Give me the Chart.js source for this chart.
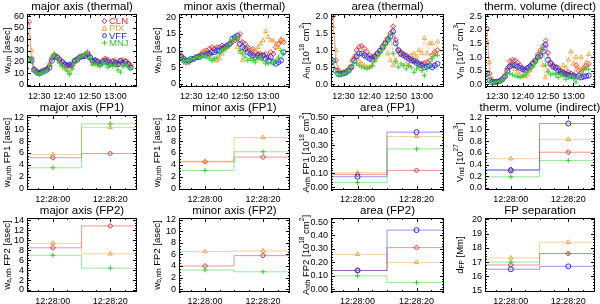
<!DOCTYPE html>
<html>
<head>
<meta charset="utf-8">
<script src="https://cdn.jsdelivr.net/npm/chart.js@4.4.1/dist/chart.umd.min.js"></script>
<style>
  body { margin: 0; background: #fff; }
  #wrap { position: relative; width: 600px; height: 304px; }
  #wrap canvas { position: absolute; left: 0; top: 0; }
</style>
</head>
<body>
<div id="wrap"></div>
<script>
// ---- data ----
const seriesNames = ['CLN', 'PIX', 'VFF', 'MNJ'];

// time axis of the thermal panels, minutes after 12:00
const minutes = [26, 27, 28, 29, 30, 31, 32, 33, 34, 35, 36, 37, 38, 39, 40, 41, 42, 43, 44, 45,
  46, 47, 48, 49, 50, 51, 52, 53, 54, 55, 56, 57, 58, 59, 60, 61, 62, 63, 64, 65, 66];
const thermTicks = [30, 40, 50, 60];

// major axis (thermal) [asec]
const majCLN = [55, 23, 14, 12, 11, 12, 13, 14, 17, 23, 26, 25, 22, 20, 18, 17, 18, 17, 21, 23, 24, 25, 26, 28, 25, 21, 22, 21, 19, 21, 23, 22, 19, 21, 20, 19, 21, 20, 21, 19, 17];
const majPIX = [42, 30, 13, 11, 10, 11, 12, 13, 19, 25, 27, 24, 20, 17, 14, 13, 11, 15, 20, 23, 25, 24, 26, 27, 23, 18, 20, 21, 18, 22, 22, 18, 21, 18, 22, 17, 20, 22, 18, 20, 16];
const majVFF = [22, 21, 13, 11, 10, 11, 12, 13, 15, 21, 25, 24, 22, 20, 18, 17, 17, 18, 21, 22, 24, 25, 25, 27, 24, 21, 21, 20, 18, 20, 21, 20, 18, 20, 19, 18, 21, 19, 20, 18, 15];
const majMNJ = [23, 22, 12, 10, 9, 10, 11, 12, 17, 24, 27, 24, 19, 16, 15, 12, 9, 14, 19, 22, 24, 26, 27, 29, 23, 18, 18, 17, 16, 19, 18, 15, 18, 16, 17, 13, 11, 16, 18, 15, 14];

// minor axis (thermal) [asec]
const minCLN = [8.5, 7, 6.3, 6.5, 7, 7.5, 8, 8.5, 9, 9.5, 10, 10.5, 11, 10.5, 11, 11, 11.5, 11, 11.5, 12, 12.5, 13, 13.5, 15, 12.5, 12, 11, 10, 10.5, 9.5, 9, 9, 8.5, 9, 8, 9.5, 9, 11, 12, 13, 12.5];
const minPIX = [9, 8, 6.5, 7, 7, 7.5, 8, 8.5, 9.5, 10, 9.5, 9, 8, 7, 7, 7.5, 9, 10, 11, 12.5, 13, 14, 11, 9.5, 7, 10, 10.5, 9, 10, 9, 11, 12, 13, 15.8, 14, 13, 13, 12, 11, 13.5, 13];
const minVFF = [8, 7.5, 7, 7, 7.5, 7.5, 8, 8, 8.5, 8.5, 9, 9, 9.5, 9.5, 10, 10, 10.5, 11, 11.5, 12, 13.5, 14, 14.5, 12, 11, 10.5, 9.5, 9, 8.5, 8, 8.5, 8, 8.5, 7.5, 7, 8, 6.5, 6, 6.5, 7, 9.5];
const minMNJ = [8, 6.5, 7, 7, 7.5, 7.5, 8, 8, 8, 8.5, 8, 7.5, 7, 7.5, 8, 9, 10, 10.5, 11, 12, 13, 13.5, 14, 10, 9, 8, 7, 7.5, 7, 6.5, 7.5, 8, 7, 6, 6, 6.5, 6, 7, 8, 10, 9];

// area (thermal) [1e18 cm^2]
const areaCLN = [2.0, 0.7, 0.4, 0.35, 0.35, 0.38, 0.42, 0.5, 0.75, 1.0, 1.1, 1.12, 1.05, 0.95, 0.85, 0.8, 0.85, 0.9, 1.0, 1.05, 1.2, 1.35, 1.5, 1.7, 1.3, 1.0, 0.95, 0.9, 0.85, 0.8, 0.75, 0.7, 0.68, 0.62, 0.6, 0.62, 0.65, 0.7, 0.85, 0.95, 1.0];
const areaPIX = [1.7, 1.0, 0.45, 0.36, 0.35, 0.4, 0.5, 0.7, 0.82, 0.78, 0.68, 0.6, 0.55, 0.5, 0.5, 0.55, 0.7, 0.85, 1.0, 1.15, 1.3, 0.9, 0.7, 0.55, 0.7, 0.95, 0.85, 0.9, 0.6, 0.55, 0.85, 0.9, 0.8, 1.0, 0.9, 1.35, 0.9, 1.2, 1.2, 0.9, 1.25];
const areaVFF = [0.68, 0.4, 0.3, 0.3, 0.32, 0.35, 0.4, 0.5, 0.7, 0.82, 0.9, 0.9, 0.85, 0.8, 0.75, 0.72, 0.8, 0.9, 0.98, 1.1, 1.2, 1.3, 1.4, 1.55, 1.2, 1.0, 0.9, 0.85, 0.8, 0.75, 0.7, 0.68, 0.62, 0.58, 0.55, 0.5, 0.52, 0.55, 0.5, 0.55, 0.6];
const areaMNJ = [0.65, 0.35, 0.25, 0.27, 0.3, 0.33, 0.38, 0.5, 0.62, 0.6, 0.55, 0.5, 0.48, 0.45, 0.5, 0.55, 0.68, 0.8, 0.9, 1.0, 1.15, 1.3, 1.45, 0.9, 0.65, 0.5, 0.6, 0.55, 0.45, 0.55, 0.5, 0.35, 0.45, 0.5, 0.4, 0.25, 0.45, 0.6, 0.75, 0.85, 0.85];

// therm. volume (direct) [1e27 cm^3]
const volCLN = [2.05, 0.4, 0.15, 0.08, 0.1, 0.12, 0.2, 0.3, 0.6, 0.85, 0.9, 0.88, 0.8, 0.7, 0.6, 0.55, 0.6, 0.7, 0.8, 0.9, 1.1, 1.25, 1.4, 1.6, 1.15, 0.8, 0.7, 0.65, 0.6, 0.5, 0.45, 0.4, 0.45, 0.4, 0.35, 0.7, 0.5, 0.45, 0.6, 0.7, 0.75];
const volPIX = [1.6, 0.8, 0.2, 0.1, 0.1, 0.12, 0.2, 0.35, 0.55, 0.75, 0.7, 0.55, 0.45, 0.35, 0.3, 0.28, 0.35, 0.5, 0.65, 0.85, 1.0, 1.1, 0.7, 0.25, 0.5, 0.7, 0.6, 0.65, 0.4, 0.45, 0.7, 0.6, 0.9, 1.2, 0.75, 1.0, 0.6, 1.0, 0.55, 0.8, 1.1];
const volVFF = [0.4, 0.15, 0.08, 0.08, 0.1, 0.12, 0.18, 0.28, 0.5, 0.65, 0.7, 0.7, 0.65, 0.6, 0.55, 0.5, 0.6, 0.65, 0.75, 0.85, 1.0, 1.05, 1.2, 1.45, 0.9, 0.75, 0.65, 0.6, 0.5, 0.45, 0.4, 0.38, 0.35, 0.3, 0.3, 0.28, 0.3, 0.25, 0.28, 0.3, 0.32];
const volMNJ = [0.35, 0.12, 0.05, 0.05, 0.08, 0.1, 0.15, 0.25, 0.4, 0.4, 0.35, 0.3, 0.28, 0.25, 0.3, 0.35, 0.45, 0.55, 0.65, 0.8, 1.0, 1.2, 1.35, 0.7, 0.45, 0.35, 0.4, 0.35, 0.25, 0.35, 0.3, 0.18, 0.25, 0.3, 0.2, 0.08, 0.25, 0.4, 0.55, 0.6, 0.55];

// footpoint panels: two times, seconds after 12:28:00; per series [t0, t20] (CLN, PIX, VFF, MNJ), null = none
const fpSeconds = [0, 20];
const fpTickLabels = ['12:28:00', '12:28:20'];
const majFP1 = [[5.2, 5.9], [5.7, 10.3], null, [3.5, 10.9]];
const minFP1 = [[4.5, 5.3], [4.6, 8.6], null, [3.05, 6.2]];
const areaFP1 = [[0.092, 0.12], [0.104, 0.363], [0.075, 0.394], [0.033, 0.274]];
const volInd = [[0.315, 0.61], [0.50, 0.83], [0.30, 1.10], [0.19, 0.47]];
const majFP2 = [[8.5, 12.9], [9.4, 7.3], null, [7.0, 4.4]];
const minFP2 = [[4.0, 5.8], [6.5, 6.6], null, [3.3, 3.0]];
const areaFP2 = [[0.14, 0.31], [0.26, 0.20], [0.14, 0.44], [0.10, 0.05]];
const fpSep = [[16.8, 17.6], [17.3, 18.4], [16.5, 16.7], [17.0, 17.6]];

// ---- style / layout ----
const colors = ['#e8262d', '#f3a040', '#2b2bd9', '#2fcf2f'];
const lineColors = ['rgba(232,38,45,0.7)', 'rgba(243,160,64,0.7)', 'rgba(43,43,217,0.7)', 'rgba(47,207,47,0.7)'];
const pointStyles = ['rectRot', 'triangle', 'circle', 'cross'];
const FONT = '"Liberation Sans", Arial, Helvetica, sans-serif';

const boxL = [27, 179, 331, 485];
const boxR = [137, 290, 444, 596];
const boxT = [14, 115, 218];
const boxB = [87, 190, 292];
const yTitleX = [7, 157, 306, 460];
const YW = 22, XH = 14;

const panels = [
  { row: 0, col: 0, title: 'major axis (thermal)', ylab: 'w_{a,th} [asec]', y: [-2, 62], yt: [0, 10, 20, 30, 40, 50, 60], ym: 5, dec: 0, data: [majCLN, majPIX, majVFF, majMNJ], legend: true },
  { row: 0, col: 1, title: 'minor axis (thermal)', ylab: 'w_{b,th} [asec]', y: [-1, 21], yt: [0, 5, 10, 15, 20], ym: 1, dec: 0, data: [minCLN, minPIX, minVFF, minMNJ] },
  { row: 0, col: 2, title: 'area (thermal)', ylab: 'A_{th} [10^{18} cm^{2}]', y: [-0.08, 2.06], yt: [0, 0.5, 1, 1.5, 2], ym: 0.1, dec: 1, data: [areaCLN, areaPIX, areaVFF, areaMNJ] },
  { row: 0, col: 3, title: 'therm. volume (direct)', ylab: 'V_{th} [10^{27} cm^{3}]', y: [-0.1, 2.58], yt: [0, 0.5, 1, 1.5, 2, 2.5], ym: 0.1, dec: 1, data: [volCLN, volPIX, volVFF, volMNJ] },
  { row: 1, col: 0, title: 'major axis (FP1)', ylab: 'w_{a,nth} FP1 [asec]', y: [-0.25, 12.4], yt: [0, 2, 4, 6, 8, 10, 12], ym: 0.5, dec: 0, data: majFP1 },
  { row: 1, col: 1, title: 'minor axis (FP1)', ylab: 'w_{b,nth} FP1 [asec]', y: [-0.25, 12.4], yt: [0, 2, 4, 6, 8, 10, 12], ym: 0.5, dec: 0, data: minFP1 },
  { row: 1, col: 2, title: 'area (FP1)', ylab: 'A_{nth} FP1 [10^{18} cm^{2}]', y: [-0.02, 0.517], yt: [0, 0.1, 0.2, 0.3, 0.4, 0.5], ym: 0.02, dec: 2, data: areaFP1 },
  { row: 1, col: 3, title: 'therm. volume (indirect)', ylab: 'V_{ind} [10^{27} cm^{3}]', y: [-0.034, 1.245], yt: [0, 0.2, 0.4, 0.6, 0.8, 1.0, 1.2], ym: 0.05, dec: 1, data: volInd },
  { row: 2, col: 0, title: 'major axis (FP2)', ylab: 'w_{a,nth} FP2 [asec]', y: [-0.4, 14.5], yt: [0, 2, 4, 6, 8, 10, 12, 14], ym: 0.5, dec: 0, data: majFP2 },
  { row: 2, col: 1, title: 'minor axis (FP2)', ylab: 'w_{b,nth} FP2 [asec]', y: [-0.5, 12.3], yt: [0, 2, 4, 6, 8, 10, 12], ym: 0.5, dec: 0, data: minFP2 },
  { row: 2, col: 2, title: 'area (FP2)', ylab: 'A_{nth} FP2 [10^{18} cm^{2}]', y: [-0.02, 0.53], yt: [0, 0.1, 0.2, 0.3, 0.4, 0.5], ym: 0.02, dec: 2, data: areaFP2 },
  { row: 2, col: 3, title: 'FP separation', ylab: 'd_{FP} [Mm]', y: [14.9, 20.1], yt: [15, 16, 17, 18, 19, 20], ym: 0.2, dec: 0, data: fpSep }
];

// ---- helpers ----
function parseRich(s) {
  const out = [];
  s.split(/(_\{[^}]*\}|\^\{[^}]*\})/).forEach(part => {
    if (!part) return;
    if (part[0] === '_') out.push([part.slice(2, -1), -1]);
    else if (part[0] === '^') out.push([part.slice(2, -1), 1]);
    else out.push([part, 0]);
  });
  return out;
}

function drawRichRotated(ctx, text, cx, cy) {
  const segs = parseRich(text);
  const fontFor = k => (k === 0 ? '9.5px ' : '6.5px ') + FONT;
  let total = 0;
  segs.forEach(([t, k]) => { ctx.font = fontFor(k); total += ctx.measureText(t).width; });
  ctx.save();
  ctx.translate(cx, cy);
  ctx.rotate(-Math.PI / 2);
  ctx.textAlign = 'left';
  ctx.textBaseline = 'middle';
  let x = -total / 2;
  segs.forEach(([t, k]) => {
    ctx.font = fontFor(k);
    ctx.fillText(t, x, k === -1 ? 2.5 : (k === 1 ? -3.5 : 0));
    x += ctx.measureText(t).width;
  });
  ctx.restore();
}

function drawMarker(ctx, style, x, y, r) {
  ctx.beginPath();
  if (style === 'rectRot') {
    ctx.moveTo(x, y - r); ctx.lineTo(x + r, y); ctx.lineTo(x, y + r); ctx.lineTo(x - r, y); ctx.closePath();
  } else if (style === 'triangle') {
    ctx.moveTo(x, y - r); ctx.lineTo(x + r, y + r * 0.8); ctx.lineTo(x - r, y + r * 0.8); ctx.closePath();
  } else if (style === 'circle') {
    ctx.arc(x, y, r * 0.8, 0, Math.PI * 2);
  } else {
    ctx.moveTo(x - r, y); ctx.lineTo(x + r, y); ctx.moveTo(x, y - r); ctx.lineTo(x, y + r);
  }
  ctx.stroke();
}

function fmtTime(v) {
  return (12 + Math.floor(v / 60)) + ':' + String(v % 60).padStart(2, '0');
}

// frame, ticks, title, y label and legend drawn on top of the library scales
const framePlugin = {
  id: 'frame',
  afterDraw(chart) {
    const p = chart.options.plugins.frame;
    const { ctx, chartArea: a, scales } = chart;
    const x = scales.x, y = scales.y;
    ctx.save();
    ctx.strokeStyle = '#000';
    ctx.lineWidth = 1;
    ctx.strokeRect(a.left + 0.5, a.top + 0.5, a.right - a.left - 1, a.bottom - a.top - 1);
    ctx.beginPath();
    const hTick = (v, len) => {
      const py = Math.round(y.getPixelForValue(v)) + 0.5;
      ctx.moveTo(a.left, py); ctx.lineTo(a.left + len, py);
      ctx.moveTo(a.right, py); ctx.lineTo(a.right - len, py);
    };
    const vTick = (v, len) => {
      const px = Math.round(x.getPixelForValue(v)) + 0.5;
      ctx.moveTo(px, a.bottom); ctx.lineTo(px, a.bottom - len);
      ctx.moveTo(px, a.top); ctx.lineTo(px, a.top + len);
    };
    y.ticks.forEach(t => hTick(t.value, 4));
    for (let v = Math.ceil(y.min / p.ym) * p.ym; v <= y.max; v += p.ym) hTick(v, 2);
    x.ticks.forEach(t => vTick(t.value, 4));
    const xm = p.row === 0 ? 2 : 5;
    for (let v = Math.ceil(x.min / xm) * xm; v <= x.max; v += xm) vTick(v, 2);
    ctx.stroke();

    ctx.fillStyle = '#000';
    ctx.font = '11.5px ' + FONT;
    ctx.textAlign = 'center';
    ctx.textBaseline = 'middle';
    ctx.fillText(p.title, (a.left + a.right) / 2, a.top - 7);

    drawRichRotated(ctx, p.ylab, yTitleX[p.col], (a.top + a.bottom) / 2);

    if (p.legend) {
      ctx.font = '9.5px ' + FONT;
      ctx.textAlign = 'left';
      ctx.lineWidth = 1;
      seriesNames.forEach((n, i) => {
        const ly = 21 + i * 7.3;
        ctx.strokeStyle = colors[i];
        ctx.fillStyle = colors[i];
        drawMarker(ctx, pointStyles[i], 104.5, ly, 2.4);
        ctx.fillText(n, 109, ly + 0.5);
      });
    }
    ctx.restore();
  }
};

function makeChart(p) {
  const wrap = document.getElementById('wrap');
  const cv = document.createElement('canvas');
  cv.width = 600;
  cv.height = 304;
  wrap.appendChild(cv);

  const L = boxL[p.col], R = boxR[p.col], T = boxT[p.row], B = boxB[p.row];
  const thermal = p.row === 0;
  const datasets = [];
  p.data.forEach((arr, i) => {
    if (!arr) return;
    if (thermal) {
      datasets.push({
        data: minutes.map((m, k) => ({ x: m, y: arr[k] })),
        borderColor: lineColors[i], borderWidth: 0.6,
        pointStyle: pointStyles[i], pointRadius: 2.5,
        pointBorderColor: colors[i], pointBackgroundColor: 'rgba(0,0,0,0)', pointBorderWidth: 0.9,
        order: 4 - i
      });
    } else {
      datasets.push({
        data: [{ x: -100, y: arr[0] }, { x: fpSeconds[0], y: arr[0] }, { x: fpSeconds[1], y: arr[1] }, { x: 100, y: arr[1] }],
        stepped: 'middle', borderColor: lineColors[i], borderWidth: 0.7, pointRadius: 0,
        order: 10 - i
      });
      datasets.push({
        data: fpSeconds.map((s, k) => ({ x: s, y: arr[k] })),
        showLine: false,
        pointStyle: pointStyles[i], pointRadius: 2.5,
        pointBorderColor: colors[i], pointBackgroundColor: 'rgba(0,0,0,0)', pointBorderWidth: 1,
        order: 4 - i
      });
    }
  });

  const tickFont = { family: FONT, size: 9 };
  new Chart(cv, {
    type: 'line',
    data: { datasets },
    options: {
      responsive: false,
      animation: false,
      events: [],
      layout: { padding: { left: L - YW, right: 600 - R, top: T, bottom: 304 - B - XH } },
      plugins: {
        legend: { display: false },
        tooltip: { enabled: false },
        title: { display: false },
        frame: p
      },
      scales: {
        x: {
          type: 'linear',
          min: thermal ? 25.2 : -9,
          max: thermal ? 68.5 : 29.3,
          afterBuildTicks: s => { s.ticks = (thermal ? thermTicks : fpSeconds).map(v => ({ value: v })); },
          afterFit: s => { s.height = XH; },
          grid: { display: false, drawTicks: false },
          border: { display: false },
          ticks: {
            autoSkip: false, maxRotation: 0, padding: 4, color: '#000', font: tickFont,
            callback: v => thermal ? fmtTime(v) : fpTickLabels[fpSeconds.indexOf(v)]
          }
        },
        y: {
          type: 'linear',
          min: p.y[0],
          max: p.y[1],
          afterBuildTicks: s => { s.ticks = p.yt.map(v => ({ value: v })); },
          afterFit: s => { s.width = YW; },
          grid: { display: false, drawTicks: false },
          border: { display: false },
          ticks: {
            autoSkip: false, padding: 3, color: '#000', font: tickFont,
            callback: v => v.toFixed(p.dec)
          }
        }
      }
    },
    plugins: [framePlugin]
  });
}

panels.forEach(makeChart);
</script>
</body>
</html>
